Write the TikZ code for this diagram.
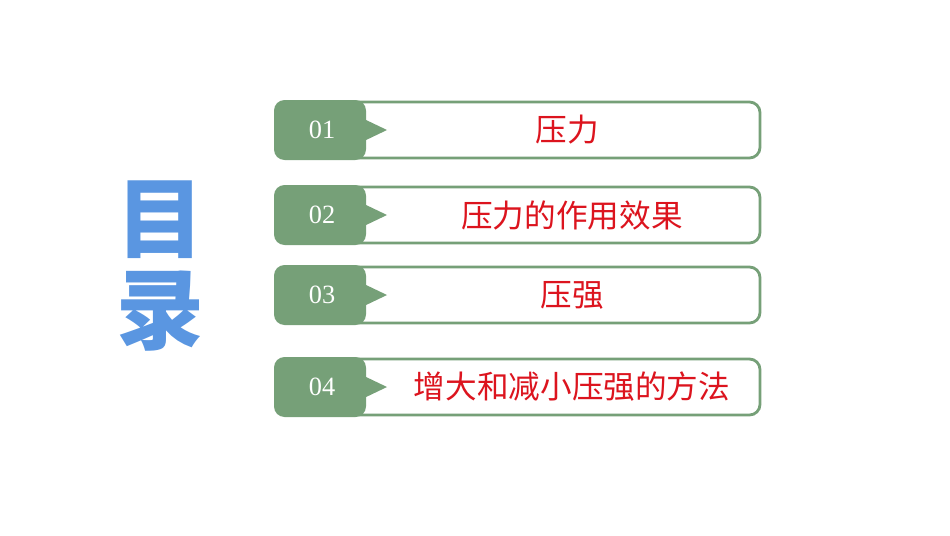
\documentclass[tikz,border=0pt]{standalone}
\usepackage{fontspec}
\setmainfont{Liberation Serif}
\newfontfamily\cjk{Noto Sans CJK SC}
\definecolor{tabgreen}{RGB}{118,160,120}
\definecolor{titleblue}{RGB}{90,150,225}
\definecolor{itemred}{RGB}{220,20,30}
\begin{document}
\begin{tikzpicture}[x=0.02cm,y=-0.02cm]
\tikzset{itembox/.style={draw=tabgreen,line width=1.6pt,rounded corners=6pt,fill=white},
  tabfill/.style={fill=tabgreen,rounded corners=6pt},
  itemtext/.style={text=itemred,font=\cjk\fontsize{18pt}{18pt}\selectfont},
  numtext/.style={text=white,font=\fontsize{15pt}{15pt}\selectfont}}
\useasboundingbox (0,0) rectangle (950,535);

\node [text=titleblue,font=\cjk\bfseries\fontsize{50pt}{50pt}\selectfont,align=center] (title) at (160,266) {目\\[2pt]录};

\foreach \y/\num/\label/\tx in {130/01/压力/567, 215/02/压力的作用效果/572, 295/03/压强/572, 387/04/增大和减小压强的方法/572}{
  \draw [itembox] (300,\y-28) rectangle (760,\y+28);
  \fill [tabfill] (274,\y-30) rectangle (366,\y+30);
  \fill [tabgreen] (364,\y-11) -- (387,\y) -- (364,\y+11) -- cycle;
  \node [numtext] (n\num) at (322,\y) {\num};
  \node [itemtext] (t\num) at (\tx,\y) {\label};
}
\end{tikzpicture}
\end{document}
